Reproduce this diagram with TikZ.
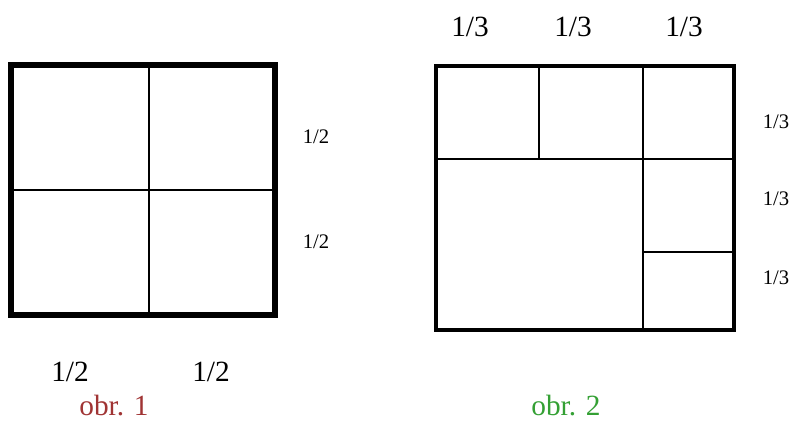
\documentclass[tikz,border=0pt]{standalone}
\usepackage{fontspec}
\setmainfont{Liberation Serif}
\definecolor{obrred}{RGB}{160,52,52}
\definecolor{obrgreen}{RGB}{52,160,52}
\begin{document}
\begin{tikzpicture}[x=0.75pt,y=-0.75pt,
  outer/.style={line width=3.8pt},
  outertwo/.style={line width=2.6pt},
  inner/.style={line width=1.4pt},
  biglbl/.style={font=\fontsize{22}{24}\selectfont, inner sep=0pt},
  smalllbl/.style={font=\fontsize{15.5}{17}\selectfont, inner sep=0pt}]
\useasboundingbox (0,0) rectangle (790,423);
% left square
\draw[inner] (149,65) -- (149,315);
\draw[inner] (11,190) -- (275,190);
\draw[outer] (11,65) rectangle (275,315);
% right rectangle
\draw[inner] (539,66) -- (539,159);
\draw[inner] (643,66) -- (643,330);
\draw[inner] (436,159) -- (734,159);
\draw[inner] (643,252) -- (734,252);
\draw[outertwo] (436,66) rectangle (734,330);
% labels left
\node[smalllbl] (l1) at (316,137) {1/2};
\node[smalllbl] (l2) at (316,242) {1/2};
\node[biglbl] (b1) at (70,372) {1/2};
\node[biglbl] (b2) at (211,372) {1/2};
\node[biglbl, text=obrred] (c1) at (114,406) {obr. 1};
% labels right
\node[biglbl] (t1) at (470,27) {1/3};
\node[biglbl] (t2) at (573,27) {1/3};
\node[biglbl] (t3) at (684,27) {1/3};
\node[smalllbl] (r1) at (776,122) {1/3};
\node[smalllbl] (r2) at (776,199) {1/3};
\node[smalllbl] (r3) at (776,278) {1/3};
\node[biglbl, text=obrgreen] (c2) at (566,406) {obr. 2};
\end{tikzpicture}
\end{document}
